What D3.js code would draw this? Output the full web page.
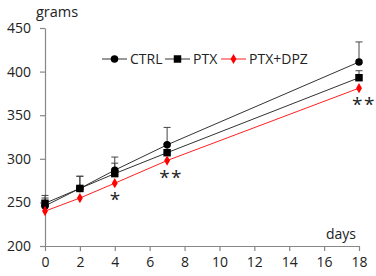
<!DOCTYPE html>
<html><head><meta charset="utf-8">
<script src="https://cdn.jsdelivr.net/npm/d3@7"></script>
<style>
body{margin:0;background:#fff;}
text{font-family:"Open Sans",sans-serif;fill:#222;}
</style></head>
<body><svg id="c" width="376" height="276"></svg>
<script>
const days = [0, 2, 4, 7, 18];
const ctrl = [246, 266, 287, 316, 411];
const ctrlErr = [12, 14, 15, 20, 23];
const ptx = [249, 266, 283, 307, 393];
const ptxErr = [6, 14, 12, 10, 8];
const dpz = [240, 255, 272, 298, 381];
const dpzErr = [0, 0, 0, 0, 0];
const xTicks = [0, 2, 4, 6, 8, 10, 12, 14, 16, 18];
const yTicks = [200, 250, 300, 350, 400, 450];
const seriesNames = ["CTRL", "PTX", "PTX+DPZ"];
const stars = [{day: 4, label: "*"}, {day: 7, label: "**"}, {day: 18, label: "**"}];

const svg = d3.select("#c");
const m = {l: 45, t: 28, r: 17, b: 30};
const W = 376 - m.l - m.r, H = 276 - m.t - m.b;
const x = d3.scaleLinear().domain([0, 18]).range([m.l, m.l + W]);
const y = d3.scaleLinear().domain([200, 450]).range([m.t + H, m.t]);

const axisColor = "#888";
const gx = svg.append("g").attr("transform", `translate(0,${m.t + H})`)
  .call(d3.axisBottom(x).tickValues(xTicks).tickSize(5).tickPadding(6).tickSizeOuter(0));
const gy = svg.append("g").attr("transform", `translate(${m.l},0)`)
  .call(d3.axisLeft(y).tickValues(yTicks).tickSize(5).tickPadding(9).tickSizeOuter(0));
[gx, gy].forEach(g => {
  g.selectAll("path,line").attr("stroke", axisColor).attr("stroke-width", 1.2);
  g.selectAll("text").attr("font-size", 14).attr("font-family", "Open Sans").attr("fill", "#222");
});

svg.append("text").attr("x", 36).attr("y", 17).attr("font-size", 14.5).text("grams");
svg.append("text").attr("x", 356).attr("y", 239).attr("text-anchor", "end").attr("font-size", 14).text("days");

const series = [
  {name: seriesNames[0], v: ctrl, e: ctrlErr, color: "#333", mark: "circle"},
  {name: seriesNames[1], v: ptx, e: ptxErr, color: "#333", mark: "square"},
  {name: seriesNames[2], v: dpz, e: dpzErr, color: "#ff2020", mark: "diamond"}
];
const line = d3.line().x(d => x(d[0])).y(d => y(d[1]));
const symbols = {
  circle: d3.symbol().type(d3.symbolCircle).size(44),
  square: d3.symbol().type(d3.symbolSquare).size(56),
  diamond: d3.symbol().type(d3.symbolDiamond).size(30)
};
const markColor = s => s.mark === "diamond" ? "#ff0000" : "#000";

series.forEach(s => {
  const g = svg.append("g");
  days.forEach((d, i) => {
    if (!s.e[i]) return;
    const x0 = x(d), y0 = y(s.v[i]), y1 = y(s.v[i] + s.e[i]);
    g.append("line").attr("x1", x0).attr("x2", x0).attr("y1", y0).attr("y2", y1).attr("stroke", "#444").attr("stroke-width", 1);
    g.append("line").attr("x1", x0 - 3.5).attr("x2", x0 + 3.5).attr("y1", y1).attr("y2", y1).attr("stroke", "#444").attr("stroke-width", 1);
  });
});
series.forEach(s => {
  svg.append("path").datum(days.map((d, i) => [d, s.v[i]]))
    .attr("d", line).attr("fill", "none").attr("stroke", s.color).attr("stroke-width", 1);
});
series.forEach(s => {
  svg.append("g").selectAll("path").data(days.map((d, i) => [d, s.v[i]])).join("path")
    .attr("d", symbols[s.mark]).attr("transform", d => `translate(${x(d[0])},${y(d[1])})`)
    .attr("fill", markColor(s));
});

const legX = [102, 165, 221];
series.forEach((s, i) => {
  const g = svg.append("g").attr("transform", `translate(${legX[i]},59)`);
  g.append("line").attr("x1", 0).attr("x2", 25).attr("stroke", s.color).attr("stroke-width", 1);
  g.append("path").attr("d", symbols[s.mark]).attr("transform", "translate(12.5,0)").attr("fill", markColor(s));
  g.append("text").attr("x", 28).attr("y", 5).attr("font-size", 14).text(s.name);
});

stars.forEach(st => {
  const i = days.indexOf(st.day);
  const xx = st.day === 4 ? x(st.day) + 1 : x(st.day) + (st.day === 18 ? 5 : 4);
  svg.append("text").attr("x", xx).attr("y", y(dpz[i]) + 23).attr("text-anchor", "middle")
    .attr("font-size", 19).attr("font-family", "DejaVu Sans").attr("letter-spacing", 1.5).text(st.label);
});
</script></body></html>
